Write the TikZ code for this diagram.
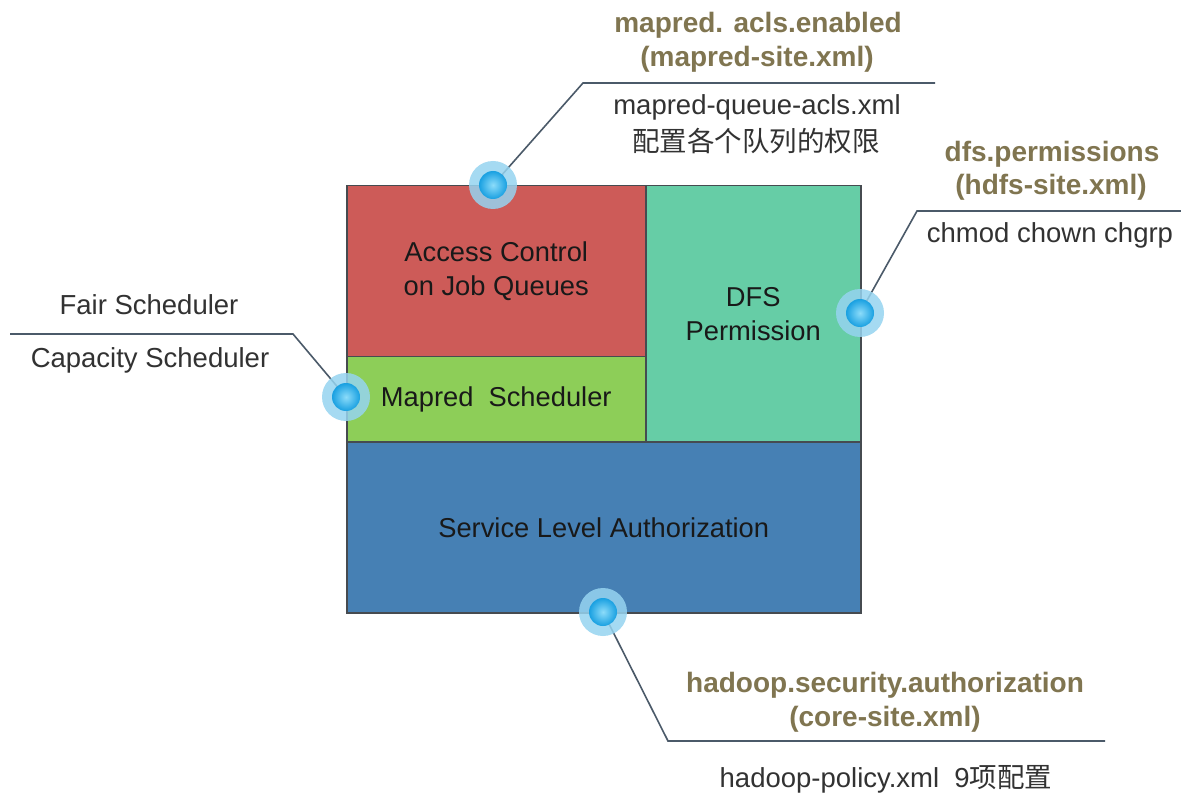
\documentclass[tikz,border=0pt]{standalone}
\usepackage{fontspec}
\setmainfont{Liberation Sans}
\newfontfamily\cjk{Noto Sans CJK SC}
\definecolor{redbox}{RGB}{205,91,88}
\definecolor{greenbox}{RGB}{141,206,88}
\definecolor{tealbox}{RGB}{102,205,166}
\definecolor{bluebox}{RGB}{70,128,180}
\definecolor{edge}{RGB}{70,75,80}
\definecolor{leadercol}{RGB}{75,90,105}
\definecolor{keytext}{RGB}{128,117,80}
\definecolor{notetext}{RGB}{50,50,50}
\definecolor{halocol}{RGB}{150,212,240}
\definecolor{dotin}{RGB}{140,220,250}
\definecolor{dotout}{RGB}{25,160,225}
\begin{document}
\begin{tikzpicture}[x=1pt,y=-1pt,
 box/.style={draw=edge, line width=1.5pt, inner sep=0pt, anchor=north west, align=center,
   text=black!90, font=\fontsize{27.3}{34}\selectfont},
 key/.style={text=keytext, font=\bfseries\fontsize{28}{32}\selectfont, inner sep=0pt, anchor=base},
 note/.style={text=notetext, font=\fontsize{27.5}{32}\selectfont, inner sep=0pt, anchor=base},
 cjknote/.style={text=notetext, font=\cjk\fontsize{27.5}{32}\selectfont, inner sep=0pt, anchor=base},
 leader/.style={draw=leadercol, line width=1.6pt},
 halo/.style={circle, fill=halocol, opacity=0.85, minimum size=48pt, inner sep=0pt},
 dot/.style={circle, inner color=dotin, outer color=dotout, minimum size=28pt, inner sep=0pt}]
\useasboundingbox[fill=white] (0,0) rectangle (1181,794);

% boxes
\node[box, fill=redbox, minimum width=299pt, minimum height=171pt] (acl) at (346,185) {Access Control\\on Job Queues};
\node[box, fill=greenbox, minimum width=299pt, minimum height=85pt] (sched) at (346,356) {Mapred\ \ Scheduler};
\node[box, fill=tealbox, minimum width=215pt, minimum height=256pt] (dfs) at (645,185) {DFS\\Permission};
\node[box, fill=bluebox, minimum width=514pt, minimum height=171pt] (sla) at (346,441) {Service Level Authorization};

% anchor points
\coordinate (ptop) at (493,185);
\coordinate (pleft) at (346,397);
\coordinate (pright) at (860,313);
\coordinate (pbot) at (603,612);
\coordinate (ctop) at (583,83);
\coordinate (etop) at (935,83);
\coordinate (cleft) at (293,334);
\coordinate (eleft) at (10,334);
\coordinate (cright) at (917,211);
\coordinate (eright) at (1181,211);
\coordinate (cbot) at (668,741);
\coordinate (ebot) at (1105,741);

% leaders
\draw[leader] (ptop) -- (ctop) -- (etop);
\draw[leader] (pleft) -- (cleft) -- (eleft);
\draw[leader] (pright) -- (cright) -- (eright);
\draw[leader] (pbot) -- (cbot) -- (ebot);

% dots
\foreach \p in {ptop,pleft,pright,pbot}{
  \node[halo] (h\p) at (\p) {};
  \node[dot] (d\p) at (\p) {};
}

% labels
\node[key] (k1a) at (758,33) {mapred. acls.enabled};
\node[key] (k1b) at (757,67) {(mapred-site.xml)};
\node[note] (n1a) at (757,115) {mapred-queue-acls.xml};
\node[cjknote] (n1b) at (756,152) {配置各个队列的权限};

\node[note] (n2a) at (149,315) {Fair Scheduler};
\node[note] (n2b) at (150,367) {Capacity Scheduler};

\node[key] (k3a) at (1052,162) {dfs.permissions};
\node[key] (k3b) at (1051,195) {(hdfs-site.xml)};
\node[note] (n3a) at (1050,243) {chmod chown chgrp};

\node[key] (k4a) at (885,692) {hadoop.security.authorization};
\node[key] (k4b) at (885,726) {(core-site.xml)};
\node[note] (n4a) at (886,787) {hadoop-policy.xml\ \ 9{\cjk 项配置}};
\end{tikzpicture}
\end{document}
